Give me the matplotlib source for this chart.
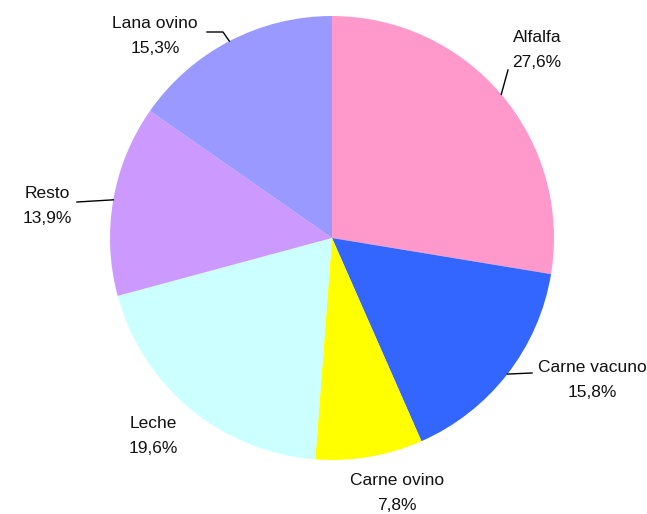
import numpy as np
import matplotlib.pyplot as plt

# Datos
categorias = ['Alfalfa', 'Carne vacuno', 'Carne ovino', 'Leche', 'Resto', 'Lana ovino']
valores = [27.6, 15.8, 7.8, 19.6, 13.9, 15.3]
colores = ['#FF99CC', '#3366FF', '#FFFF00', '#CCFFFF', '#CC99FF', '#9999FF']

W, H = 647, 514
cx, cy, r = 332, H - 238, 222

# posicion de etiquetas (pixeles, y desde arriba)
etiq_pos = {
    'Alfalfa': (537, 50),
    'Carne vacuno': (592, 380),
    'Carne ovino': (397, 493),
    'Leche': (153, 436),
    'Resto': (47, 206),
    'Lana ovino': (155, 36),
}
# extremo de la guia cerca del texto
guia_fin = {
    'Alfalfa': [(508, 70)],
    'Carne vacuno': [(532, 373)],
    'Resto': [(77, 202)],
    'Lana ovino': [(223, 32), (207, 32)],
}

fig = plt.figure(figsize=(W / 100, H / 100), dpi=100)
ax = fig.add_axes([0, 0, 1, 1])

wedges, _ = ax.pie(valores, colors=colores, startangle=90, counterclock=False,
                   center=(cx, cy), radius=r, frame=True)
ax.set_xlim(0, W)
ax.set_ylim(0, H)
ax.set_aspect('equal')
ax.axis('off')

for w, cat, v in zip(wedges, categorias, valores):
    x, y = etiq_pos[cat]
    ax.text(x, H - y, f'{cat}\n{v:.1f}%'.replace('.', ','), ha='center', va='center',
            fontsize=12.5, family='Liberation Sans', linespacing=1.8, color='#111111')
    if cat in guia_fin:
        ang = np.deg2rad((w.theta1 + w.theta2) / 2)
        px, py = cx + r * np.cos(ang), cy + r * np.sin(ang)
        pts = [(px, py)] + [(a, H - b) for a, b in guia_fin[cat]]
        xs, ys = zip(*pts)
        ax.plot(xs, ys, color='black', lw=1)

fig.savefig('out.png', dpi=100)
